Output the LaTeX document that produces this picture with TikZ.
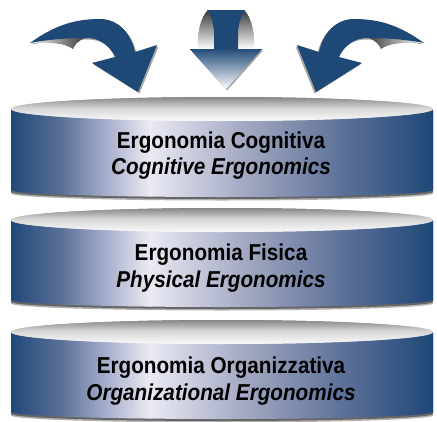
\documentclass[tikz,border=0pt]{standalone}
\usepackage{fontspec}
\usepackage{graphicx}
\setmainfont{Liberation Sans}
\definecolor{ablue}{RGB}{30,72,118}
\definecolor{c1}{RGB}{31,72,120}
\definecolor{c2}{RGB}{88,110,150}
\definecolor{c3}{RGB}{172,178,205}
\definecolor{c4}{RGB}{234,234,243}
\definecolor{c5}{RGB}{160,166,192}
\colorlet{g1}{black!50}
\colorlet{g2}{black!16}
\colorlet{g3}{black!3}
\colorlet{hw}{ablue!4}
\colorlet{wd}{black!80}
\newcommand\hgrad[6]{%
  \pgfmathtruncatemacro\gn{ceil(((#2)-(#1))/1.5)}%
  \foreach \k in {0,...,\gn}{%
    \pgfmathsetmacro\gx{(#1)+((#2)-(#1))*\k/\gn}%
    \pgfmathtruncatemacro\gp{100-100*\k/\gn}%
    \fill[#5!\gp!#6] (\gx-0.9,#3) rectangle (\gx+0.9,#4);
  }}
\newcommand\vgrad[6]{%
  \pgfmathtruncatemacro\gn{ceil(((#2)-(#1))/1)}%
  \foreach \k in {0,...,\gn}{%
    \pgfmathsetmacro\gy{(#1)+((#2)-(#1))*\k/\gn}%
    \pgfmathtruncatemacro\gp{100-100*\k/\gn}%
    \fill[#5!\gp!#6] (#3,\gy-0.6) rectangle (#4,\gy+0.6);
  }}
\newcommand\drawdisc[2]{%
  \fill[black!30] (11,#1+2) -- (11,#2+3.5) arc[start angle=180,end angle=0,x radius=211,y radius=7] -- (433,#1+2) -- cycle;
  \fill[black!60] (11,#1+2) -- (11,#2+2) arc[start angle=180,end angle=0,x radius=211,y radius=7] -- (433,#1+2) -- cycle;
  \begin{scope}
    \clip (11,#1) -- (11,#2) arc[start angle=180,end angle=0,x radius=211,y radius=7] -- (433,#1) -- cycle;
    \hgrad{11}{60}{#1-1}{#2+9}{c1}{c2}
    \hgrad{60}{110}{#1-1}{#2+9}{c2}{c3}
    \hgrad{110}{150}{#1-1}{#2+9}{c3}{c4}
    \hgrad{150}{250}{#1-1}{#2+9}{c4}{c5}
    \hgrad{250}{350}{#1-1}{#2+9}{c5}{c2}
    \hgrad{350}{433}{#1-1}{#2+9}{c2}{c1}
  \end{scope}
  \begin{scope}
    \clip (222,#1) ellipse[x radius=211, y radius=12];
    \vgrad{#1-12}{#1}{10}{434}{g1}{g2}
    \vgrad{#1}{#1+12}{10}{434}{g2}{g3}
  \end{scope}}
% curved arrow: #1 x offset, #2 y offset, #3 sign (1 or -1), #4 fill colour
\newcommand\FillArrow[4]{%
  \fill[#4] ({#1+#3*30},{#2+43}) .. controls ({#1+#3*55},{#2+25}) and ({#1+#3*75},{#2+19}) .. ({#1+#3*100},{#2+19})
    .. controls ({#1+#3*118},{#2+19}) and ({#1+#3*131},{#2+33}) .. ({#1+#3*135},{#2+52})
    -- ({#1+#3*157},{#2+45}) -- ({#1+#3*138},{#2+92}) -- ({#1+#3*92},{#2+63}) -- ({#1+#3*115},{#2+57})
    .. controls ({#1+#3*110},{#2+46}) and ({#1+#3*100},{#2+38}) .. ({#1+#3*87},{#2+38})
    .. controls ({#1+#3*65},{#2+38}) and ({#1+#3*45},{#2+40}) .. ({#1+#3*30},{#2+43}) -- cycle;}
% underside of curved arrow: #1 x offset, #2 sign
\newcommand\ClipUnder[2]{%
  \clip ({#1+#2*30},43) .. controls ({#1+#2*50},42) and ({#1+#2*65},43) .. ({#1+#2*73},49)
    .. controls ({#1+#2*75},44) and ({#1+#2*79},40) .. ({#1+#2*88},37)
    .. controls ({#1+#2*65},36) and ({#1+#2*45},39) .. ({#1+#2*30},43) -- cycle;}
\newcommand\cond[1]{\scalebox{0.9}[1]{#1}}
\tikzset{
  lbl/.style={font=\fontsize{23}{28}\selectfont\bfseries, inner sep=0pt, anchor=base},
  lbli/.style={lbl, font=\fontsize{23}{28}\selectfont\bfseries\itshape},
}
\begin{document}
\begin{tikzpicture}[x=1pt,y=-1pt]
\useasboundingbox (0,0) rectangle (437,421);
% discs
\drawdisc{109}{190}
\drawdisc{220}{300}
\drawdisc{332}{412}
% left curved arrow
\FillArrow{1.5}{1.5}{1}{black!35}
\begin{scope}\ClipUnder{0}{1}\hgrad{30}{88}{34}{51}{white}{wd}\end{scope}
\FillArrow{0}{0}{1}{ablue}
% right curved arrow (mirror image)
\FillArrow{452.5}{1.5}{-1}{black!35}
\begin{scope}\ClipUnder{454}{-1}\hgrad{366}{424}{34}{51}{wd}{white}\end{scope}
\FillArrow{454}{0}{-1}{ablue}
% center arrow
\begin{scope}
  \clip (208,10) .. controls (200,18) and (197,35) .. (198,50) -- (216,50) -- (216,10) -- cycle;
  \vgrad{10}{50}{196}{218}{wd}{white}
\end{scope}
\begin{scope}
  \clip (244,10) .. controls (252,18) and (255,35) .. (254,50) -- (236,50) -- (236,10) -- cycle;
  \vgrad{10}{50}{234}{256}{wd}{white}
\end{scope}
\fill[ablue] (207.5,10) -- (244.5,10) .. controls (240,18) and (238,26) .. (238,35) -- (238,51) -- (214,51) -- (214,35) .. controls (214,26) and (212,18) .. (207.5,10) -- cycle;
\fill[black!35] (191,50.5) -- (263,50.5) -- (227,90.5) -- cycle;
\begin{scope}
  \clip (190,49) -- (262,49) -- (226,89) -- cycle;
  \vgrad{49}{89}{189}{263}{ablue}{hw}
\end{scope}
% labels
\node[lbl]  (l1a) at (221,148) {\cond{Ergonomia Cognitiva}};
\node[lbli] (l1b) at (221,174) {\cond{Cognitive Ergonomics}};
\node[lbl]  (l2a) at (221,260) {\cond{Ergonomia Fisica}};
\node[lbli] (l2b) at (221,287) {\cond{Physical Ergonomics}};
\node[lbl]  (l3a) at (221,373) {\cond{Ergonomia Organizzativa}};
\node[lbli] (l3b) at (221,400) {\cond{Organizational Ergonomics}};
\end{tikzpicture}
\end{document}
